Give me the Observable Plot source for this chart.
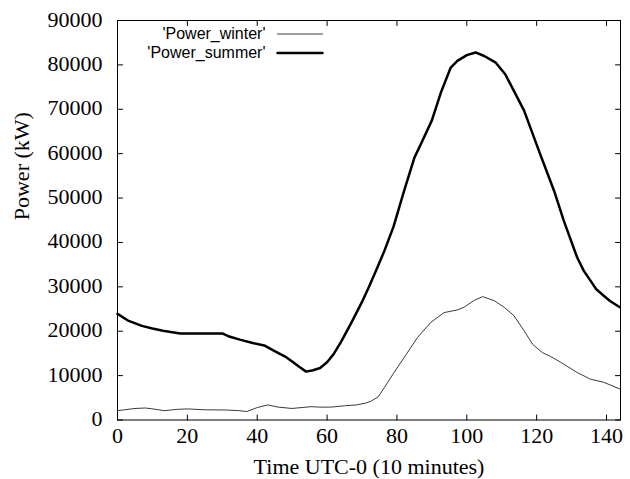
<!DOCTYPE html>
<html>
<head>
<meta charset="utf-8">
<script src="https://cdn.jsdelivr.net/npm/d3@7"></script>
<script src="https://cdn.jsdelivr.net/npm/@observablehq/plot@0.6"></script>
<style>
  html, body { margin: 0; padding: 0; background: #fff; }
  #chart svg { display: block; }
</style>
</head>
<body>
<div id="chart"></div>
<script>
// ---- data ----
const summerX = [0, 3, 7, 10, 13, 18, 24, 30, 32, 35, 39, 42, 45, 48, 50, 52, 54, 56, 58, 60, 62, 64, 67, 70, 72, 74, 76.4, 79, 82, 85, 87.3, 90, 92.6, 95.4, 97.3, 100, 102.5, 105, 108.3, 111, 116.4, 121, 125, 127.8, 131.6, 133.5, 135.4, 137, 139.2, 141, 143.8];
const summerY = [23900, 22400, 21200, 20600, 20100, 19500, 19500, 19500, 18800, 18100, 17300, 16800, 15500, 14300, 13200, 12000, 10900, 11200, 11700, 13000, 15000, 17600, 22000, 26600, 30000, 33600, 38100, 43500, 51500, 59100, 62900, 67500, 73800, 79400, 80900, 82200, 82800, 82000, 80500, 77900, 69700, 59900, 51600, 44800, 36600, 33600, 31400, 29500, 28000, 26800, 25400];

const winterX = [0, 2, 5, 8, 11, 13.5, 17, 20, 25, 31, 35, 37, 40, 43, 46, 50, 55.4, 58, 61, 65, 68.4, 71, 72.5, 74.6, 76.4, 79, 82, 85.9, 89.7, 93.5, 97.3, 99.2, 102, 104.5, 107.8, 110.7, 113.5, 116.4, 118.8, 121.6, 124, 126.9, 131.6, 135.4, 139.2, 143.8];
const winterY = [2100, 2300, 2600, 2700, 2400, 2100, 2400, 2500, 2300, 2250, 2100, 1900, 2800, 3400, 2900, 2600, 3000, 2900, 2900, 3200, 3400, 3800, 4200, 5200, 7300, 10500, 14000, 18600, 22000, 24200, 24800, 25400, 26900, 27800, 26900, 25400, 23500, 20100, 17100, 15200, 14300, 13000, 10700, 9200, 8500, 7000];

const xTicks = [0, 20, 40, 60, 80, 100, 120, 140];
const yTicks = [0, 10000, 20000, 30000, 40000, 50000, 60000, 70000, 80000, 90000];
const legendLabels = ["'Power_winter'", "'Power_summer'"];
const xLabel = "Time UTC-0 (10 minutes)";
const yLabel = "Power (kW)";

const summer = summerX.map((x, i) => ({x, y: summerY[i]}));
const winter = winterX.map((x, i) => ({x, y: winterY[i]}));

// straight segment shape for vectors (drawn "up", rotated as needed)
const seg = {draw(context, l) { context.moveTo(0, 0); context.lineTo(0, -l); }};
const TICK = 5;
const tickStyle = {length: TICK, anchor: "start", shape: seg, stroke: "#000", strokeWidth: 1};

const legendStyles = [
  {stroke: "#3a3a3a", strokeWidth: 1, dy: 13.5},
  {stroke: "#000", strokeWidth: 2.5, dy: 32.5}
];

const legendMarks = legendLabels.flatMap((lab, i) => [
  Plot.text([lab], {frameAnchor: "top-left", dx: 148, dy: legendStyles[i].dy, text: d => d,
    textAnchor: "end", lineAnchor: "middle", fontFamily: "Liberation Sans", fontSize: 16, fill: "#000"}),
  Plot.vector([lab], {frameAnchor: "top-left", dx: 160, dy: legendStyles[i].dy, length: 45, rotate: 90,
    anchor: "start", shape: seg, stroke: legendStyles[i].stroke, strokeWidth: legendStyles[i].strokeWidth})
]);

const chart = Plot.plot({
  width: 630,
  height: 479,
  marginLeft: 117,
  marginRight: 10,
  marginTop: 20,
  marginBottom: 59.5,
  style: {fontFamily: "Liberation Serif", fontSize: "22px", background: "#fff", color: "#000"},
  x: {domain: [0, 144]},
  y: {domain: [0, 90000]},
  marks: [
    Plot.frame({stroke: "#000", strokeWidth: 1}),
    // tick labels
    Plot.axisX({ticks: xTicks, tickSize: 0, tickPadding: 7, tickFormat: d3.format("d"), label: null}),
    Plot.axisY({ticks: yTicks, tickSize: 0, tickPadding: 15, tickFormat: d3.format("d"), label: null, dy: -1}),
    // inward tick marks on all four sides
    Plot.vector(xTicks, {x: d => d, frameAnchor: "bottom", rotate: 0, ...tickStyle}),
    Plot.vector(xTicks, {x: d => d, frameAnchor: "top", rotate: 180, ...tickStyle}),
    Plot.vector(yTicks, {y: d => d, frameAnchor: "left", rotate: 90, ...tickStyle}),
    Plot.vector(yTicks, {y: d => d, frameAnchor: "right", rotate: -90, ...tickStyle}),
    // axis titles
    Plot.text([xLabel], {frameAnchor: "bottom", dy: 53.5, text: d => d, lineAnchor: "bottom", fill: "#000"}),
    Plot.text([yLabel], {frameAnchor: "left", dx: -89, rotate: -90, text: d => d, lineAnchor: "bottom", fill: "#000"}),
    // data
    Plot.line(winter, {x: "x", y: "y", stroke: "#3a3a3a", strokeWidth: 1}),
    Plot.line(summer, {x: "x", y: "y", stroke: "#000", strokeWidth: 2.5}),
    ...legendMarks
  ]
});
document.getElementById("chart").appendChild(chart);
</script>
</body>
</html>
